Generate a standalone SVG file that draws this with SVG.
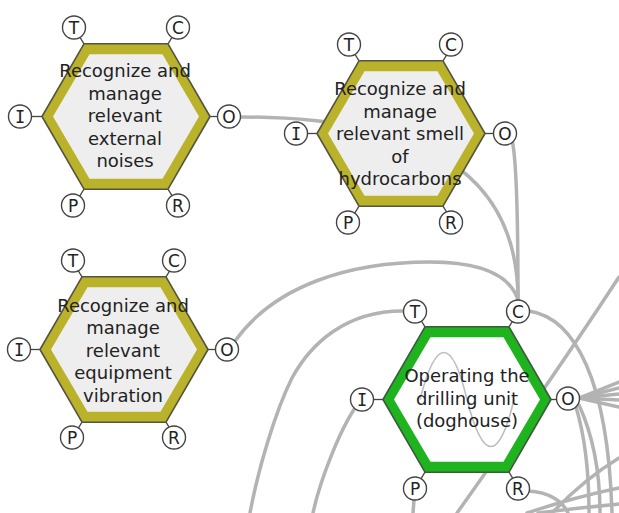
<svg xmlns="http://www.w3.org/2000/svg" width="619" height="513" viewBox="0 0 619 513">
<style>
.bg{fill:#ffffff}
.conn path,.conn line{fill:none;stroke:#b3b3b3;stroke-width:3.5;stroke-linecap:round}
.outer{stroke:#55553f;stroke-width:1.6;stroke-linejoin:round}
.olive{fill:#bab22a}
.green{fill:#1fb41f;stroke:#3c5a3c}
.innerg{fill:#eeeeee}
.innerw{fill:#ffffff}
.stub{stroke:#444;stroke-width:1.3}
.port{fill:#ffffff;stroke:#444;stroke-width:1.4}
.pl{font-family:"DejaVu Sans",Verdana,sans-serif;font-size:17px;fill:#222;text-anchor:middle}
.plm{font-family:"DejaVu Sans Mono",monospace;font-size:17px;fill:#222;text-anchor:middle}
.lbl{font-family:"DejaVu Sans",Verdana,sans-serif;font-size:18px;fill:#222;text-anchor:middle}
.wave{fill:none;stroke:#bdbdbd;stroke-width:1.6}
</style>
<defs>
<polygon id="hexOuter" points="-84,0 -42,-72.7 42,-72.7 84,0 42,72.7 -42,72.7"/>
<polygon id="hexInner" points="-73,0 -36.5,-62.2 36.5,-62.2 73,0 36.5,62.2 -36.5,62.2"/>
<g id="stubs">
<line x1="-42" y1="-72.7" x2="-52" y2="-89"/>
<line x1="42" y1="-72.7" x2="52" y2="-89"/>
<line x1="-84" y1="0" x2="-105" y2="0"/>
<line x1="84" y1="0" x2="104" y2="0"/>
<line x1="-42" y1="72.7" x2="-52" y2="89"/>
<line x1="42" y1="72.7" x2="52" y2="89"/>
</g>
</defs>
<rect class="bg" x="0" y="0" width="619" height="513"/>

<g id="connectors" class="conn">
<path d="M240,117 C420,117 518,170 518,300"/>
<path d="M512,140 C517,160 518,230 518,300"/>
<path d="M235,341 C275,285 350,262 430,262 C480,262 510,275 518,300"/>
<path d="M405,311 C345,310 310,345 292,378 C275,412 258,470 250,513"/>
<path d="M355,408 C340,430 320,480 313,513"/>
<path d="M414,500 L413,513"/>
<path d="M528,491 C550,492 563,502 568,513"/>
<path d="M529,311 C575,318 608,380 612,513"/>
<path d="M619,277 Q555,375 457,513"/>
<path d="M579,398 L619,382"/>
<path d="M579,398 L619,388"/>
<path d="M579,398 L619,394"/>
<path d="M579,398 L619,400"/>
<path d="M579,398 L619,407"/>
<path d="M576,407 C586,440 589,480 589,513"/>
<path d="M579,405 C595,440 600,480 600,513"/>
<path d="M552,513 C572,492 596,472 619,458"/>
<path d="M527,513 C560,502 590,494 619,488"/>
<path d="M538,513 C570,509 600,506 619,504"/>
</g>

<g id="node-external-noises" transform="translate(126,116.5)">
<use href="#stubs" class="stub"/>
<use href="#hexOuter" class="outer olive"/>
<use href="#hexInner" class="innerg"/>
<text class="lbl" x="-1" y="-39.5">Recognize and</text>
<text class="lbl" x="-1" y="-17">manage</text>
<text class="lbl" x="-1" y="5.5">relevant</text>
<text class="lbl" x="-1" y="28">external</text>
<text class="lbl" x="-1" y="50.5">noises</text>
<circle class="port" cx="-52" cy="-89" r="11.5"/><text class="pl" x="-52" y="-83">T</text>
<circle class="port" cx="52" cy="-89" r="11.5"/><text class="pl" x="52" y="-83">C</text>
<circle class="port" cx="-106" cy="0" r="11.5"/><text class="plm" x="-106" y="6">I</text>
<circle class="port" cx="103" cy="0" r="11.5"/><text class="pl" x="103" y="6">O</text>
<circle class="port" cx="-53" cy="89" r="11.5"/><text class="pl" x="-53" y="95">P</text>
<circle class="port" cx="52" cy="89" r="11.5"/><text class="pl" x="52" y="95">R</text>
</g>

<g id="node-smell-hydrocarbons" transform="translate(401,133.5)">
<use href="#stubs" class="stub"/>
<use href="#hexOuter" class="outer olive"/>
<use href="#hexInner" class="innerg"/>
<text class="lbl" x="-1" y="-38.5">Recognize and</text>
<text class="lbl" x="-1" y="-16">manage</text>
<text class="lbl" x="-1" y="6.5">relevant smell</text>
<text class="lbl" x="-1" y="29">of</text>
<text class="lbl" x="-1" y="51.5">hydrocarbons</text>
<circle class="port" cx="-52" cy="-89" r="11.5"/><text class="pl" x="-52" y="-83">T</text>
<circle class="port" cx="50" cy="-89" r="11.5"/><text class="pl" x="50" y="-83">C</text>
<circle class="port" cx="-105" cy="0" r="11.5"/><text class="plm" x="-105" y="6">I</text>
<circle class="port" cx="104" cy="0" r="11.5"/><text class="pl" x="104" y="6">O</text>
<circle class="port" cx="-53" cy="89" r="11.5"/><text class="pl" x="-53" y="95">P</text>
<circle class="port" cx="50" cy="89" r="11.5"/><text class="pl" x="50" y="95">R</text>
</g>

<g id="node-equipment-vibration" transform="translate(124,349.5)">
<use href="#stubs" class="stub"/>
<use href="#hexOuter" class="outer olive"/>
<use href="#hexInner" class="innerg"/>
<text class="lbl" x="-1" y="-38">Recognize and</text>
<text class="lbl" x="-1" y="-15.5">manage</text>
<text class="lbl" x="-1" y="7">relevant</text>
<text class="lbl" x="-1" y="29.5">equipment</text>
<text class="lbl" x="-1" y="52">vibration</text>
<circle class="port" cx="-51" cy="-89" r="11.5"/><text class="pl" x="-51" y="-83">T</text>
<circle class="port" cx="50" cy="-89" r="11.5"/><text class="pl" x="50" y="-83">C</text>
<circle class="port" cx="-105" cy="0" r="11.5"/><text class="plm" x="-105" y="6">I</text>
<circle class="port" cx="103" cy="0" r="11.5"/><text class="pl" x="103" y="6">O</text>
<circle class="port" cx="-52" cy="88" r="11.5"/><text class="pl" x="-52" y="94">P</text>
<circle class="port" cx="50" cy="88" r="11.5"/><text class="pl" x="50" y="94">R</text>
</g>

<g id="node-drilling-unit" transform="translate(467,399.5)">
<use href="#stubs" class="stub"/>
<use href="#hexOuter" class="outer green"/>
<use href="#hexInner" class="innerw"/>
<path class="wave" d="M-47,0 C-31,-62.7 -15,-62.7 0,0 C16,62.7 32,62.7 47,0"/>
<text class="lbl" x="0" y="-17.5">Operating the</text>
<text class="lbl" x="0" y="5">drilling unit</text>
<text class="lbl" x="0" y="27.5">(doghouse)</text>
<circle class="port" cx="-52" cy="-88" r="11.5"/><text class="pl" x="-52" y="-82">T</text>
<circle class="port" cx="51" cy="-88" r="11.5"/><text class="pl" x="51" y="-82">C</text>
<circle class="port" cx="-105" cy="0" r="11.5"/><text class="plm" x="-105" y="6">I</text>
<circle class="port" cx="101" cy="-1" r="11.5"/><text class="pl" x="101" y="5">O</text>
<circle class="port" cx="-52" cy="89" r="11.5"/><text class="pl" x="-52" y="95">P</text>
<circle class="port" cx="51" cy="89" r="11.5"/><text class="pl" x="51" y="95">R</text>
</g>
</svg>
